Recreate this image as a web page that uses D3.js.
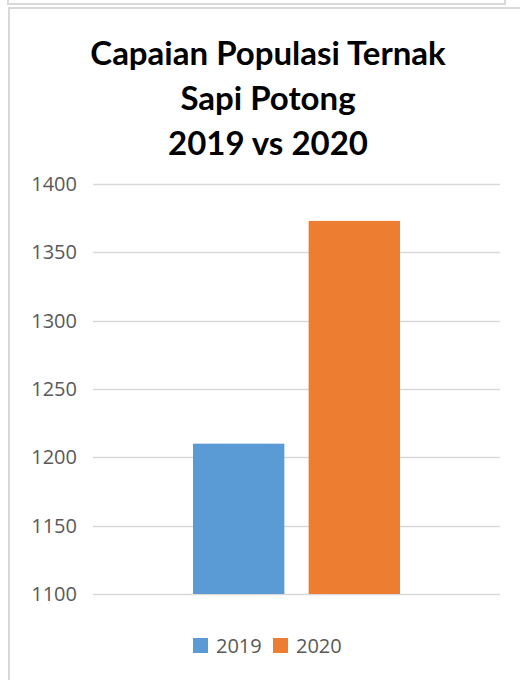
<!DOCTYPE html>
<html>
<head>
<meta charset="utf-8">
<script src="https://cdn.jsdelivr.net/npm/d3@7"></script>
<style>
  body { margin: 0; background: #fff; }
  svg { display: block; }
</style>
</head>
<body>
<div id="chart"></div>
<script>
var titleLines = ["Capaian Populasi Ternak", "Sapi Potong", "2019 vs 2020"];
var category = ["Sapi Potong"];
var seriesNames = ["2019", "2020"];
var seriesValues = [1210, 1373];
var seriesColors = ["#5B9BD5", "#ED7D31"];
var yTicks = [1100, 1150, 1200, 1250, 1300, 1350, 1400];

var width = 520, height = 680;
var margin = {top: 184, right: 20, bottom: 86, left: 93};

var svg = d3.select("#chart").append("svg")
    .attr("width", width)
    .attr("height", height);

// frame bits of the surrounding page
var frame = svg.append("g")
    .attr("stroke", "#d9d9d9")
    .attr("fill", "none")
    .attr("stroke-width", 2);
frame.append("path").attr("d", "M8,0V4H505V0");
frame.append("path").attr("d", "M9,680V8H520");

// title
svg.append("g")
  .selectAll("text")
  .data(titleLines)
  .join("text")
    .attr("x", 268)
    .attr("y", function(d, i) { return 65 + i * 45; })
    .attr("text-anchor", "middle")
    .attr("font-family", "Lato, 'Open Sans', sans-serif")
    .attr("font-weight", "bold")
    .attr("font-size", 33)
    .attr("fill", "#000")
    .text(function(d) { return d; });

var x0 = d3.scaleBand()
    .domain(category)
    .range([margin.left, width - margin.right]);

var x1 = d3.scaleBand()
    .domain(seriesNames)
    .range([193, 400])
    .paddingInner(0.21);

var y = d3.scaleLinear()
    .domain([1100, 1400])
    .range([height - margin.bottom, margin.top]);

// gridlines
svg.append("g")
  .selectAll("line")
  .data(yTicks)
  .join("line")
    .attr("x1", margin.left)
    .attr("x2", width - margin.right)
    .attr("y1", function(d) { return Math.round(y(d)) + 0.5; })
    .attr("y2", function(d) { return Math.round(y(d)) + 0.5; })
    .attr("stroke", "#d9d9d9")
    .attr("stroke-width", 1.3);

// y axis labels
var yAxis = d3.axisLeft(y).tickValues(yTicks).tickSize(0).tickPadding(16)
    .tickFormat(d3.format("d"));
var ya = svg.append("g")
    .attr("transform", "translate(" + margin.left + ",0)")
    .call(yAxis);
ya.select(".domain").remove();
ya.selectAll("text")
    .attr("font-family", "'Open Sans', sans-serif")
    .attr("font-size", 20)
    .attr("fill", "#595959");

// bars
svg.append("g")
  .selectAll("rect")
  .data(seriesNames)
  .join("rect")
    .attr("x", function(d) { return x1(d); })
    .attr("width", x1.bandwidth())
    .attr("y", function(d, i) { return y(seriesValues[i]); })
    .attr("height", function(d, i) { return y(1100) - y(seriesValues[i]); })
    .attr("fill", function(d, i) { return seriesColors[i]; });

// legend
var legend = svg.append("g").attr("transform", "translate(193,638)");
var items = legend.selectAll("g")
  .data(seriesNames)
  .join("g")
    .attr("transform", function(d, i) { return "translate(" + (i * 80) + ",0)"; });
items.append("rect")
    .attr("width", 15)
    .attr("height", 15)
    .attr("fill", function(d, i) { return seriesColors[i]; });
items.append("text")
    .attr("x", 23)
    .attr("y", 15)
    .attr("font-family", "'Open Sans', sans-serif")
    .attr("font-size", 20)
    .attr("fill", "#595959")
    .text(function(d) { return d; });
</script>
</body>
</html>
